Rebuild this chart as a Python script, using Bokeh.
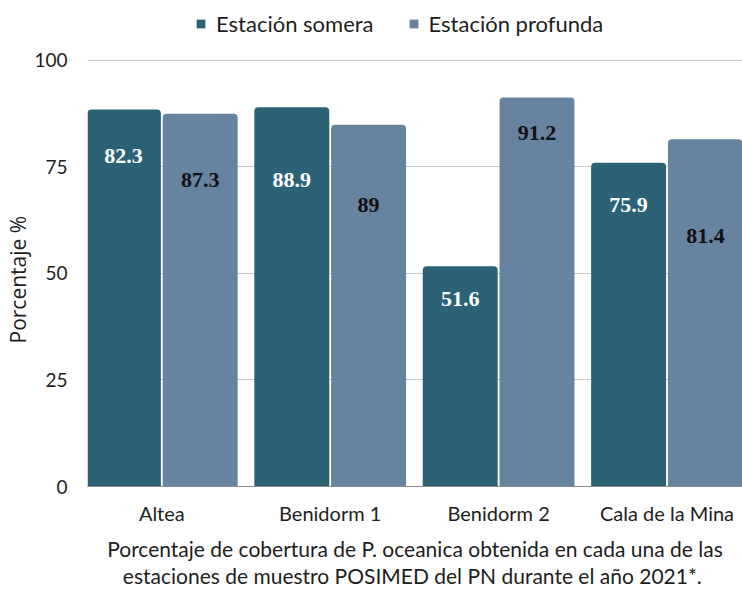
import numpy as np
from bokeh.plotting import figure
from bokeh.models import ColumnDataSource, FixedTicker, Legend, LegendItem, Range1d, Title
from bokeh.core.properties import value
from bokeh.embed import file_html
from bokeh.resources import INLINE

# ---- data ----
categories = ["Altea", "Benidorm 1", "Benidorm 2", "Cala de la Mina"]
somera_bar = [88.5, 89.0, 51.7, 76.0]
profunda_bar = [87.5, 84.9, 91.3, 81.5]
somera_labels = ["82.3", "88.9", "51.6", "75.9"]
profunda_labels = ["87.3", "89", "91.2", "81.4"]
somera_label_y = [77.5, 71.9, 43.9, 66.1]
profunda_label_y = [71.9, 66.1, 82.9, 58.8]
y_ticks = [0, 25, 50, 75, 100]
series_names = ["Estación somera", "Estación profunda"]
y_title = "Porcentaje %"
caption = ("Porcentaje de cobertura de P. oceanica obtenida en cada una de las\n"
           "estaciones  de muestro POSIMED del PN durante el año 2021*.")

C_SOM = "#2c6275"
C_PRO = "#68839f"
TXT = "#1e1e1e"
SANS = "Lato"

idx = np.arange(len(categories))
off = 0.228
bw = 0.445

src_s = ColumnDataSource(dict(x=idx - off, top=somera_bar, ly=somera_label_y, lab=somera_labels))
src_p = ColumnDataSource(dict(x=idx + off, top=profunda_bar, ly=profunda_label_y, lab=profunda_labels))

# ---- layout geometry (pixels) ----
W, H = 742, 591
BL, BB = 87, 104
FH = H - BB                 # frame spans from canvas top to the baseline
TOP100 = 60                 # pixel row of the 100 gridline
CAT_PX, CAT0 = 168.4, 161.3 # category spacing / first category centre
y_end = 100 * FH / (FH - TOP100)
x_start = (BL - CAT0) / CAT_PX
x_end = (W - CAT0) / CAT_PX

p = figure(width=W, height=H,
           min_border_left=BL, min_border_right=0, min_border_top=0, min_border_bottom=BB,
           x_range=Range1d(x_start, x_end), y_range=Range1d(0, y_end),
           output_backend="svg", toolbar_location=None)
p.outline_line_color = None
p.background_fill_color = "white"
p.border_fill_color = "white"

r1 = p.vbar(x="x", top="top", width=bw, source=src_s, fill_color=C_SOM,
            line_color=None, border_radius=(4, 4, 0, 0))
r2 = p.vbar(x="x", top="top", width=bw, source=src_p, fill_color=C_PRO,
            line_color=None, border_radius=(4, 4, 0, 0))

p.text(x="x", y="ly", text="lab", source=src_s, text_font=value("Liberation Serif"),
       text_font_style="bold", text_font_size="22px", text_align="center",
       text_baseline="middle", text_color="white")
p.text(x="x", y="ly", text="lab", source=src_p, text_font=value("Liberation Serif"),
       text_font_style="bold", text_font_size="22px", text_align="center",
       text_baseline="middle", text_color="#111111")

# grid
p.xgrid.visible = False
p.ygrid.grid_line_color = "#c8c8c8"
p.ygrid.grid_line_width = 1

# y axis
p.yaxis.ticker = FixedTicker(ticks=y_ticks)
p.yaxis.axis_line_color = None
p.yaxis.major_tick_line_color = None
p.yaxis.minor_tick_line_color = None
p.yaxis.major_label_standoff = 14
p.yaxis.major_label_text_font = SANS
p.yaxis.major_label_text_font_size = "19px"
p.yaxis.major_label_text_color = TXT

# y title: placed in the left panel, starting where the reference's text starts
ytitle = Title(text=y_title, align="left", offset=FH - 344, vertical_align="bottom",
               standoff=0, text_font="Open Sans", text_font_size="21px",
               text_font_style="normal", text_color=TXT)
p.add_layout(ytitle, "left")

# x axis
p.xaxis.ticker = FixedTicker(ticks=list(idx))
p.xaxis.major_label_overrides = {int(i): c for i, c in zip(idx, categories)}
p.xaxis.major_tick_line_color = None
p.xaxis.minor_tick_line_color = None
p.xaxis.axis_line_color = "#8c8c8c"
p.xaxis.major_label_standoff = 8
p.xaxis.major_label_text_font = SANS
p.xaxis.major_label_text_font_size = "20px"
p.xaxis.major_label_text_color = TXT
p.xaxis.axis_label = caption
p.xaxis.axis_label_text_font = SANS
p.xaxis.axis_label_text_font_style = "normal"
p.xaxis.axis_label_text_font_size = "21px"
p.xaxis.axis_label_text_line_height = 1.1
p.xaxis.axis_label_text_color = TXT
p.xaxis.axis_label_standoff = 8

legend = Legend(items=[LegendItem(label=series_names[0], renderers=[r1]),
                       LegendItem(label=series_names[1], renderers=[r2])],
                orientation="horizontal", location=(195 - BL, FH - 38),
                glyph_width=11, glyph_height=11, label_standoff=10, spacing=34,
                padding=0, margin=0, border_line_color=None, background_fill_alpha=0,
                label_text_font=SANS, label_text_font_size="22px", label_text_color=TXT)
p.add_layout(legend)

open("out.html", "w").write(file_html(p, INLINE))
